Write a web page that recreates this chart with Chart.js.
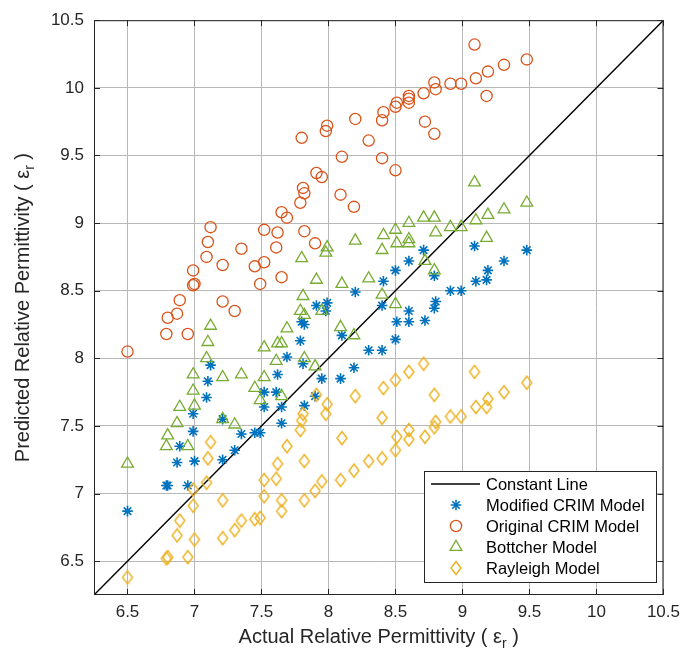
<!DOCTYPE html>
<html>
<head>
<meta charset="utf-8">
<title>Permittivity models</title>
<script src="https://cdn.jsdelivr.net/npm/chart.js@4.4.0/dist/chart.umd.min.js"></script>
<style>
	html, body { margin: 0; padding: 0; background: #fff; }
	#wrap { width: 687px; height: 653px; }
</style>
</head>
<body>
<div id="wrap"><canvas id="mycanvas" width="687" height="653"></canvas></div>
<script>
// actual relative permittivity (shared x of all models)
var actual = [6.50, 6.79, 6.80, 6.87, 6.89, 6.95, 6.99, 6.99, 7.00, 7.09,
	7.10, 7.12, 7.21, 7.21, 7.30, 7.35, 7.45, 7.49, 7.52, 7.52,
	7.61, 7.62, 7.65, 7.65, 7.69, 7.79, 7.80, 7.81, 7.82, 7.82,
	7.90, 7.91, 7.95, 7.98, 7.99, 8.09, 8.10, 8.19, 8.20, 8.30,
	8.40, 8.40, 8.41, 8.50, 8.50, 8.51, 8.60, 8.60, 8.60, 8.71,
	8.72, 8.79, 8.79, 8.80, 8.91, 8.99, 9.09, 9.10, 9.18, 9.19,
	9.31, 9.48];

var modCrim = [6.87, 7.06, 7.06, 7.23, 7.35, 7.06, 7.46, 7.59, 7.24, 7.71,
	7.83, 7.95, 7.55, 7.25, 7.32, 7.44, 7.45, 7.45, 7.75, 7.64,
	7.75, 7.88, 7.52, 7.64, 8.01, 8.13, 8.27, 7.96, 8.25, 7.65,
	7.72, 8.39, 7.85, 8.35, 8.41, 7.85, 8.17, 7.93, 8.49, 8.06,
	8.06, 8.39, 8.57, 8.14, 8.65, 8.27, 8.27, 8.35, 8.72, 8.80,
	8.28, 8.37, 8.61, 8.42, 8.50, 8.50, 8.83, 8.57, 8.58, 8.65,
	8.72, 8.80];

var origCrim = [8.05, 8.18, 8.30, 8.33, 8.43, 8.18, 8.54, 8.65, 8.55, 8.75,
	8.86, 8.97, 8.69, 8.42, 8.35, 8.81, 8.68, 8.55, 8.71, 8.95,
	8.82, 8.93, 8.60, 9.08, 9.04, 9.15, 9.63, 9.26, 9.22, 8.94,
	8.85, 9.37, 9.34, 9.68, 9.72, 9.21, 9.49, 9.12, 9.77, 9.61,
	9.48, 9.76, 9.82, 9.39, 9.86, 9.89, 9.89, 9.92, 9.94, 9.96,
	9.75, 9.66, 10.04, 9.99, 10.03, 10.03, 10.32, 10.07, 9.94, 10.12,
	10.17, 10.21];

var bottcher = [7.22, 7.35, 7.43, 7.52, 7.64, 7.35, 7.76, 7.88, 7.65, 8.00,
	8.12, 8.24, 7.86, 7.55, 7.51, 7.88, 7.78, 7.69, 7.86, 8.08,
	7.98, 8.11, 7.72, 8.11, 8.22, 8.35, 8.74, 8.46, 8.32, 8.00,
	7.94, 8.58, 8.35, 8.78, 8.82, 8.23, 8.55, 8.17, 8.87, 8.59,
	8.47, 8.80, 8.91, 8.40, 8.95, 8.85, 8.85, 8.88, 9.00, 9.04,
	8.72, 8.65, 9.04, 8.93, 8.97, 8.97, 9.30, 9.02, 8.89, 9.06,
	9.10, 9.15];

var rayleigh = [6.38, 6.52, 6.53, 6.69, 6.80, 6.53, 6.91, 7.03, 6.66, 7.08,
	7.26, 7.38, 6.95, 6.67, 6.73, 6.80, 6.81, 6.82, 7.10, 6.98,
	7.11, 7.22, 6.87, 6.95, 7.35, 7.47, 7.54, 7.59, 7.24, 6.95,
	7.02, 7.73, 7.09, 7.59, 7.66, 7.10, 7.41, 7.17, 7.72, 7.24,
	7.26, 7.56, 7.78, 7.32, 7.84, 7.42, 7.40, 7.47, 7.90, 7.96,
	7.42, 7.49, 7.73, 7.53, 7.57, 7.57, 7.90, 7.64, 7.64, 7.70,
	7.75, 7.82];

var constLine = [6.25, 10.5];
var tickVals = [6.5, 7, 7.5, 8, 8.5, 9, 9.5, 10, 10.5];
var seriesNames = ['Constant Line', 'Modified CRIM Model', 'Original CRIM Model', 'Bottcher Model', 'Rayleigh Model'];

var FONT = '"Liberation Sans", Arial, Helvetica, sans-serif';
var colBlue = '#0072BD', colRed = '#D95319', colYellow = '#EDB120', colGreen = '#77AC30';

function pts(ys) {
	return actual.map(function(x, i) { return { x: x, y: ys[i] }; });
}

// matlab-like diamond (a bit taller than wide)
function makeDiamond(color) {
	var c = document.createElement('canvas');
	c.width = 14; c.height = 16;
	var g = c.getContext('2d');
	g.strokeStyle = color;
	g.lineWidth = 1.4;
	g.beginPath();
	g.moveTo(7, 1.5); g.lineTo(12, 8); g.lineTo(7, 14.5); g.lineTo(2, 8);
	g.closePath();
	g.stroke();
	return c;
}

var styles = [
	{ pointStyle: false, color: '#000000' },
	{ pointStyle: 'star', radius: 5.3, borderWidth: 1.6, color: colBlue },
	{ pointStyle: 'circle', radius: 5.6, borderWidth: 1.3, color: colRed },
	{ pointStyle: 'triangle', radius: 6.8, borderWidth: 1.3, color: colGreen },
	{ pointStyle: makeDiamond(colYellow), radius: 6, borderWidth: 1.3, color: colYellow }
];

function markerSet(k, data) {
	var s = styles[k];
	return {
		label: seriesNames[k],
		data: data,
		showLine: false,
		pointStyle: s.pointStyle,
		pointRadius: s.radius,
		pointHoverRadius: s.radius,
		pointBorderWidth: s.borderWidth,
		pointBorderColor: s.color,
		pointBackgroundColor: 'rgba(0,0,0,0)',
		borderColor: s.color,
		backgroundColor: 'rgba(0,0,0,0)'
	};
}

// drawn first = bottom: line, then models, Rayleigh on top
var datasets = [
	markerSet(4, pts(rayleigh)),
	markerSet(3, pts(bottcher)),
	markerSet(2, pts(origCrim)),
	markerSet(1, pts(modCrim)),
	{
		label: seriesNames[0],
		data: constLine.map(function(v) { return { x: v, y: v }; }),
		showLine: true,
		borderColor: '#000000',
		borderWidth: 1.4,
		pointRadius: 0,
		fill: false
	}
];

function drawSubTitle(ctx, pre, sub, post, x, y) {
	ctx.font = '20px ' + FONT;
	var w1 = ctx.measureText(pre).width;
	ctx.font = '14px ' + FONT;
	var w2 = ctx.measureText(sub).width;
	ctx.font = '20px ' + FONT;
	var w3 = ctx.measureText(post).width;
	var sx = x - (w1 + w2 + w3) / 2;
	ctx.textAlign = 'left';
	ctx.textBaseline = 'alphabetic';
	ctx.fillText(pre, sx, y);
	ctx.font = '14px ' + FONT;
	ctx.fillText(sub, sx + w1, y + 5);
	ctx.font = '20px ' + FONT;
	ctx.fillText(post, sx + w1 + w2, y);
}

var decor = {
	id: 'decor',
	afterDraw: function(chart) {
		var ctx = chart.ctx;
		var a = chart.chartArea;
		var xs = chart.scales.x, ys = chart.scales.y;
		ctx.save();
		// box + inward ticks
		ctx.strokeStyle = '#262626';
		ctx.lineWidth = 1;
		ctx.strokeRect(a.left + 0.5, a.top + 0.5, a.right - a.left - 1, a.bottom - a.top - 1);
		ctx.beginPath();
		tickVals.forEach(function(v) {
			var px = Math.round(xs.getPixelForValue(v)) + 0.5;
			ctx.moveTo(px, a.bottom); ctx.lineTo(px, a.bottom - 6);
			ctx.moveTo(px, a.top); ctx.lineTo(px, a.top + 6);
			var py = Math.round(ys.getPixelForValue(v)) + 0.5;
			ctx.moveTo(a.left, py); ctx.lineTo(a.left + 6, py);
			ctx.moveTo(a.right, py); ctx.lineTo(a.right - 6, py);
		});
		ctx.stroke();

		// axis titles with subscript r
		ctx.fillStyle = '#262626';
		drawSubTitle(ctx, 'Actual Relative Permittivity ( \u03b5', 'r', ' )', (a.left + a.right) / 2, 643);
		ctx.save();
		ctx.translate(29, (a.top + a.bottom) / 2);
		ctx.rotate(-Math.PI / 2);
		drawSubTitle(ctx, 'Predicted Relative Permittivity ( \u03b5', 'r', ' )', 0, 0);
		ctx.restore();

		// legend
		var lx = 424, ly = 471, lw = 232, lh = 111;
		ctx.fillStyle = '#ffffff';
		ctx.fillRect(lx, ly, lw, lh);
		ctx.strokeStyle = '#262626';
		ctx.strokeRect(lx + 0.5, ly + 0.5, lw, lh);
		ctx.font = '16.5px ' + FONT;
		ctx.textAlign = 'left';
		ctx.textBaseline = 'middle';
		for (var k = 0; k < seriesNames.length; k++) {
			var cy = ly + 13 + k * 21;
			if (k === 0) {
				ctx.strokeStyle = '#000000';
				ctx.lineWidth = 1.4;
				ctx.beginPath();
				ctx.moveTo(431, cy); ctx.lineTo(480, cy);
				ctx.stroke();
			} else {
				var s = styles[k];
				ctx.strokeStyle = s.color;
				ctx.fillStyle = 'rgba(0,0,0,0)';
				ctx.lineWidth = s.borderWidth;
				Chart.helpers.drawPoint(ctx, { pointStyle: s.pointStyle, radius: s.radius, rotation: 0, borderWidth: s.borderWidth }, 456, cy);
			}
			ctx.fillStyle = '#000000';
			ctx.fillText(seriesNames[k], 486, cy + 1);
		}
		ctx.restore();
	}
};

var scatterChart = new Chart(document.getElementById('mycanvas'), {
	type: 'scatter',
	data: { datasets: datasets },
	options: {
		responsive: false,
		animation: false,
		devicePixelRatio: 1,
		layout: { padding: { left: 0, top: 19, right: 17, bottom: 0 } },
		plugins: {
			legend: { display: false },
			tooltip: { enabled: false }
		},
		scales: {
			x: {
				type: 'linear',
				min: 6.25,
				max: 10.5,
				afterBuildTicks: function(axis) { axis.ticks = tickVals.map(function(v) { return { value: v }; }); },
				afterFit: function(scale) { scale.height = 58; },
				ticks: {
					autoSkip: false,
					maxRotation: 0,
					padding: 7,
					color: '#262626',
					font: { family: FONT, size: 17 },
					callback: function(v) { return String(v); }
				},
				grid: { color: '#b8b8b8', drawTicks: false, lineWidth: 1 },
				border: { display: false }
			},
			y: {
				type: 'linear',
				min: 6.25,
				max: 10.5,
				afterBuildTicks: function(axis) { axis.ticks = tickVals.map(function(v) { return { value: v }; }); },
				afterFit: function(scale) { scale.width = 94; },
				ticks: {
					autoSkip: false,
					padding: 10,
					color: '#262626',
					font: { family: FONT, size: 17 },
					callback: function(v) { return String(v); }
				},
				grid: { color: '#b8b8b8', drawTicks: false, lineWidth: 1 },
				border: { display: false }
			}
		}
	},
	plugins: [decor]
});
</script>
</body>
</html>
